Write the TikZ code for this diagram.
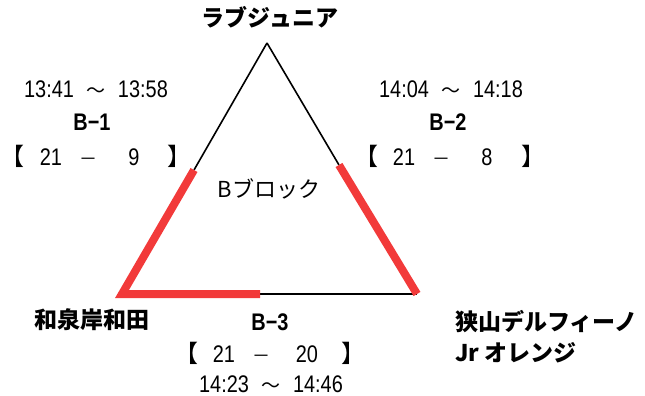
\documentclass[tikz,border=0pt]{standalone}
\usepackage{fontspec}
\setmainfont[FakeStretch=0.83]{Liberation Sans}
\newfontfamily\jp{Noto Sans CJK JP}
\definecolor{winred}{RGB}{242,58,58}
\newcommand{\score}[2]{\makebox[34pt]{\jp 【}\makebox[42pt]{#1}\makebox[32pt]{\jp\fontsize{18}{18}\selectfont －}\makebox[60pt]{#2}\makebox[32pt]{\jp 】}}
\newcommand{\period}[2]{#1\hspace{12pt}{\jp\fontsize{19}{19}\selectfont ～}\hspace{13pt}#2}
\tikzset{x=1pt, y=-1pt,
every node/.style={inner sep=0pt, anchor=base}, % Text sits on its baseline
team/.style={font=\jp\bfseries\fontsize{23}{23}\selectfont},
info/.style={font=\fontsize{24}{24}\selectfont},
game/.style={font=\bfseries\fontsize{24}{24}\selectfont},
lost/.style={draw, line width=1.6pt},
won/.style={draw=winred, line width=8pt, line join=miter}}

\begin{document}
\begin{tikzpicture}
\useasboundingbox (0,0) rectangle (645,396);
\coordinate (top) at (267,43);
\coordinate (bl) at (122,294);
\coordinate (br) at (417,294);
\coordinate (lmid) at (194,170);
\coordinate (rmid) at (339,165);
\coordinate (bmid) at (260,294);
\draw[lost] (top) -- (lmid);
\draw[lost] (top) -- (rmid);
\draw[lost] (bmid) -- (br);
\draw[won] (lmid) -- (bl) -- (bmid);
\draw[won] (rmid) -- (br);
% teams
\node[team] (love) at (270,27) {ラブジュニア};
\node[team] (izumi) at (92,328) {和泉岸和田};
\node[team, anchor=base west] (sayama) at (455,330) {狭山デルフィーノ};
\node[team, anchor=base west] (orange) at (455,361) {Jr オレンジ};
\node[info, font=\jp\fontsize{22}{22}\selectfont] (block) at (269,197) {Bブロック};
% games
\node[info] (t1) at (96,97) {\period{13:41}{13:58}};
\node[game] (g1) at (92,130) {B−1};
\node[info] (s1) at (96,165) {\score{21}{9}};
\node[info] (t2) at (451,97) {\period{14:04}{14:18}};
\node[game] (g2) at (448,130) {B−2};
\node[info] (s2) at (449,165) {\score{21}{8}};
\node[game] (g3) at (270,330) {B−3};
\node[info] (s3) at (269,362) {\score{21}{20}};
\node[info] (t3) at (271,392) {\period{14:23}{14:46}};
\end{tikzpicture}
\end{document}
